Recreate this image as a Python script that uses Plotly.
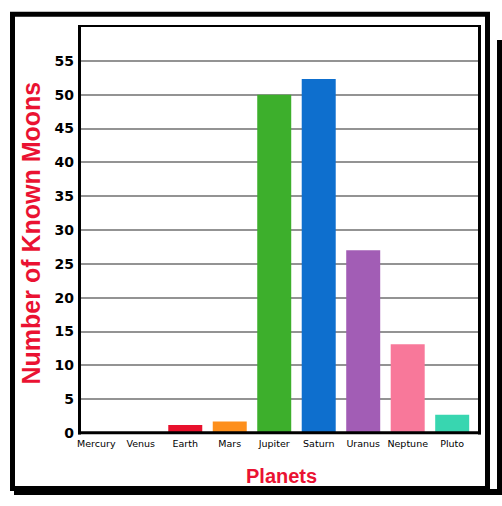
import plotly.graph_objects as go

planets = ["Mercury", "Venus", "Earth", "Mars", "Jupiter", "Saturn", "Uranus", "Neptune", "Pluto"]
moons = [0, 0, 1.2, 1.7, 50, 52.3, 27, 13.1, 2.7]
bar_colors = ["#e8112d", "#e8112d", "#e8112d", "#fd8f1c", "#3daf2c", "#0e6fce", "#a25db5", "#f8789a", "#38d6b0"]
y_ticks = [0, 5, 10, 15, 20, 25, 30, 35, 40, 45, 50, 55]
x_title = "Planets"
y_title = "Number of Known Moons"

W, H = 502, 506
L, R, T, B = 80, 22, 27, 73
PW, PH = W - L - R, H - T - B

def fx(px):
    return (px - L) / PW

def fy(py):
    return (H - B - py) / PH

RED = "#ea1232"

fig = go.Figure()
fig.add_trace(go.Bar(
    x=planets, y=moons, marker_color=bar_colors, marker_line_width=0, width=0.764,
))

shapes = []
# plot borders
shapes.append(dict(type="line", xref="paper", yref="paper", x0=fx(79.5), x1=fx(79.5), y0=fy(25), y1=fy(434.5), line=dict(color="black", width=3)))
shapes.append(dict(type="line", xref="paper", yref="paper", x0=fx(78), x1=fx(481), y0=fy(432.8), y1=fy(432.8), line=dict(color="black", width=3)))
shapes.append(dict(type="line", xref="paper", yref="paper", x0=fx(78), x1=fx(481), y0=fy(26), y1=fy(26), line=dict(color="black", width=2)))
shapes.append(dict(type="line", xref="paper", yref="paper", x0=fx(479.5), x1=fx(479.5), y0=fy(25), y1=fy(434.5), line=dict(color="black", width=3)))
# outer frame
shapes.append(dict(type="rect", xref="paper", yref="paper", x0=fx(12.5), x1=fx(487.5), y0=fy(14.3), y1=fy(488.5), line=dict(color="black", width=5)))
# shadow
shapes.append(dict(type="rect", xref="paper", yref="paper", x0=fx(497), x1=fx(503), y0=fy(40), y1=fy(495), fillcolor="black", line=dict(width=0)))
shapes.append(dict(type="rect", xref="paper", yref="paper", x0=fx(14), x1=fx(500), y0=fy(489), y1=fy(495), fillcolor="black", line=dict(width=0)))

fig.update_layout(
    width=W, height=H,
    margin=dict(l=L, r=R, t=T, b=B, pad=0),
    paper_bgcolor="white", plot_bgcolor="white",
    showlegend=False,
    shapes=shapes,
    xaxis=dict(
        type="category", range=[-0.366, 8.625], showgrid=False, showline=False, zeroline=False,
        tickfont=dict(family="DejaVu Sans", size=9.5, color="black"), ticklabelstandoff=3,
        fixedrange=True,
    ),
    yaxis=dict(
        range=[0, 60], tickvals=y_ticks, showgrid=True, gridcolor="#939393", gridwidth=1.5,
        showline=False, zeroline=False,
        tickfont=dict(family="DejaVu Sans", size=14, color="black", weight="bold"), ticklabelstandoff=5,
        fixedrange=True,
    ),
    annotations=[
        dict(text=y_title, xref="paper", yref="paper", x=fx(31), y=fy(233.5), showarrow=False,
             textangle=-90, xanchor="center", yanchor="middle",
             font=dict(family="Liberation Sans", size=25, color=RED, weight="bold")),
        dict(text=x_title, xref="paper", yref="paper", x=fx(281), y=fy(475.5), showarrow=False,
             xanchor="center", yanchor="middle",
             font=dict(family="Liberation Sans", size=20, color=RED, weight="bold")),
    ],
)

fig.write_html(
    "out.html",
    config={"displayModeBar": False},
    post_script="document.body.style.margin='0';document.body.style.overflow='hidden';",
)
